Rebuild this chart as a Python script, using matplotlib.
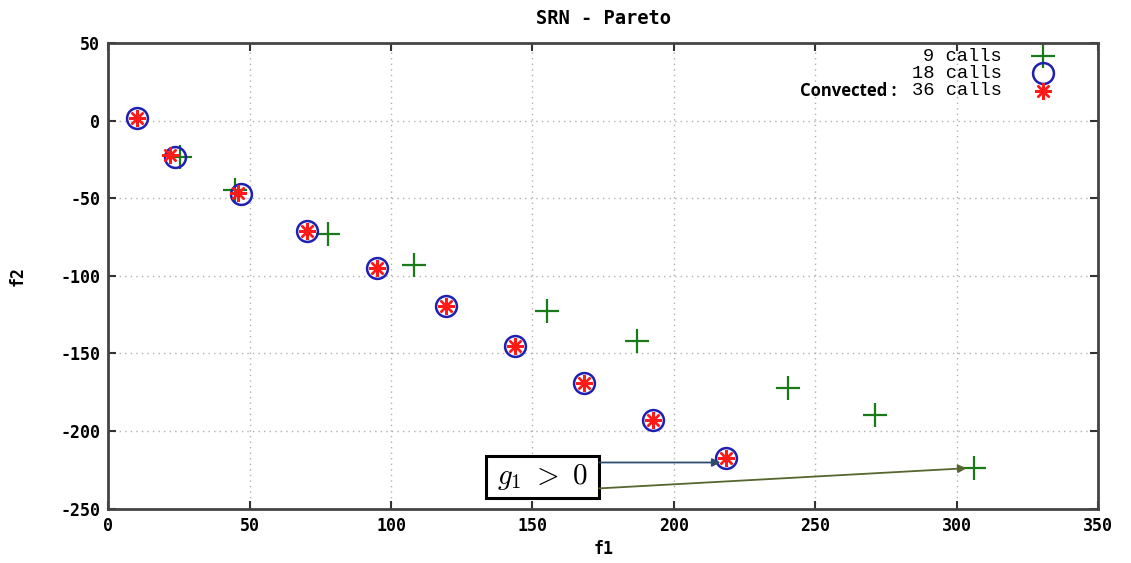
import matplotlib
matplotlib.use("Agg")
import matplotlib.pyplot as plt
from matplotlib.patches import Rectangle

# ---- data ----
f1_conv = [10, 21.8, 45.9, 70.4, 94.9, 119.3, 143.8, 168.3, 192.7, 218.3]
f2_conv = [2, -21.9, -46.5, -71, -95, -119.6, -144.9, -168.8, -193.2, -217.7]

f1_18 = [10, 23.6, 47, 70.4, 94.9, 119.3, 143.8, 168.3, 192.7, 218.3]
f2_18 = [2, -23.3, -47.2, -71, -95, -119.6, -144.9, -168.8, -193.2, -217.7]

f1_9 = [25.4, 44.9, 77.8, 108, 155.1, 187, 240.2, 271, 306.2]
f2_9 = [-23.3, -44.6, -73, -93, -122.8, -142, -172.4, -190, -224]

xticks = [0, 50, 100, 150, 200, 250, 300, 350]
yticks = [50, 0, -50, -100, -150, -200, -250]

title = "SRN - Pareto"
labels = ["9 calls", "18 calls", "36 calls"]

plt.rcParams["mathtext.fontset"] = "cm"
fig = plt.figure(figsize=(11.31, 5.63), dpi=100)
ax = fig.add_axes([0.0958, 0.0967, 0.8750, 0.8265])

green = "#1a7a1a"
blue = "#1f1fb4"
red = "#ff1a1a"

ax.plot(f1_9, f2_9, linestyle="none", marker="+", ms=17, mew=1.6, color=green, zorder=3)
ax.plot(f1_18, f2_18, linestyle="none", marker="o", ms=15, mew=1.8, mfc="none", mec=blue, zorder=4)
ax.plot(f1_conv, f2_conv, linestyle="none", marker=(8, 2, 0), ms=12, mew=1.7, color=red, zorder=5)

ax.set_xlim(0, 350)
ax.set_ylim(-250, 50)
ax.set_xticks(xticks)
ax.set_yticks(yticks)
mono = "DejaVu Sans Mono"
ax.set_xticklabels([str(t) for t in xticks], fontfamily=mono, fontsize=12, fontweight="bold")
ax.set_yticklabels([str(t) for t in yticks], fontfamily=mono, fontsize=12, fontweight="bold")
ax.tick_params(direction="in", length=6, width=1.5, top=True, right=True, pad=6, color="#333333")
ax.grid(True, color="#b0b0b0", linestyle=(0, (1, 3)), linewidth=1)
for s in ax.spines.values():
    s.set_linewidth(2)
    s.set_color("#444444")

ax.set_title(title, fontfamily=mono, fontsize=13.5, fontweight="bold", pad=14)
ax.set_xlabel("f1", fontfamily=mono, fontsize=12, fontweight="bold", labelpad=4)
ax.set_ylabel("f2", fontfamily=mono, fontsize=12, fontweight="bold", labelpad=24)

# legend (manual, gnuplot style: right-aligned text, marker on the right)
tx = 0.903
mx = 0.944
ys = [0.972, 0.935, 0.898]
for lab, yy in zip(labels, ys):
    ax.text(tx, yy, lab, transform=ax.transAxes, ha="right", va="center",
            fontfamily="Liberation Mono", fontsize=13.5)
ax.text(0.796, ys[2], "Convected :", transform=ax.transAxes, ha="right", va="center",
        fontfamily="Open Sans", fontweight="bold", fontsize=12)
ax.plot([mx], [ys[0]], transform=ax.transAxes, marker="+", ms=17, mew=1.6, color=green, clip_on=False)
ax.plot([mx], [ys[1]], transform=ax.transAxes, marker="o", ms=15, mew=1.8, mfc="none", mec=blue, clip_on=False)
ax.plot([mx], [ys[2]], transform=ax.transAxes, marker=(8, 2, 0), ms=12, mew=1.7, color=red, clip_on=False)

# annotation box
ax.add_patch(Rectangle((133.5, -242.9), 40.1, 27.1, fc="white", ec="black", lw=2.2, zorder=6))
ax.text(153.5, -229.5, r"$g_1\ >\ 0$", ha="center", va="center", fontsize=21, zorder=7)
ax.annotate("", xy=(216.5, -220.3), xytext=(173.6, -220.3),
            arrowprops=dict(arrowstyle="-|>", color="#2e4d6e", lw=1.3, mutation_scale=12,
                            shrinkA=0, shrinkB=0), zorder=6)
ax.annotate("", xy=(303.5, -224), xytext=(173.6, -237),
            arrowprops=dict(arrowstyle="-|>", color="#56662e", lw=1.3, mutation_scale=12,
                            shrinkA=0, shrinkB=0), zorder=6)

fig.savefig("out.png", dpi=100)
